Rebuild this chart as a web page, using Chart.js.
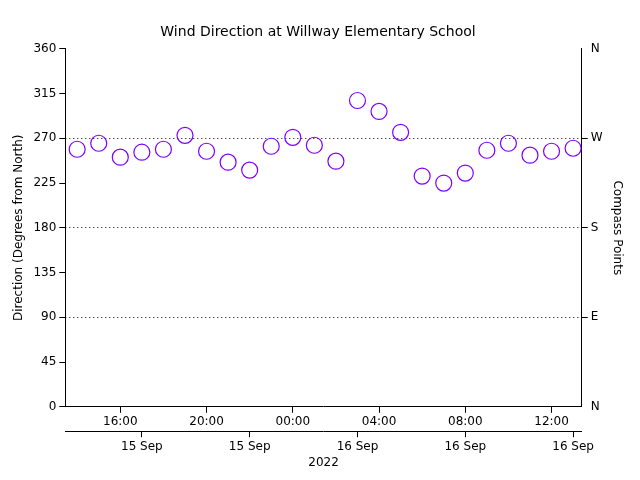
<!DOCTYPE html>
<html><head>
<script src="https://cdn.jsdelivr.net/npm/chart.js@4"></script>
<style>body{margin:0;background:#fff}</style>
</head><body><canvas id="c" width="640" height="480"></canvas>
<script>
// hours since 00:00 on 15 Sep 2022
const hours = [14,15,16,17,18,19,20,21,22,23,24,25,26,27,28,29,30,31,32,33,34,35,36,37]
const direction = [259,265,251,256,259,273,257,246,238,262,271,263,247,308,297,276,232,225,235,258,265,253,257,260]
const compassTicks = {0:'N',90:'E',180:'S',270:'W',360:'N'}
const dateTicks = {17:'15 Sep',22:'15 Sep',27:'16 Sep',32:'16 Sep',37:'16 Sep'}

Chart.defaults.font.family = 'DejaVu Sans'
Chart.defaults.font.size = 12
Chart.defaults.color = '#000'

const pts = hours.map((h, i) => ({x: h, y: direction[i]}))

new Chart(document.getElementById('c'), {
    type: 'scatter',
    data: {datasets: [{data: pts, borderColor: '#8000ff', backgroundColor: 'rgba(0,0,0,0)',
        pointRadius: 8, pointBorderWidth: 1.2, yAxisID: 'y'}]},
    options: {
        responsive: false, animation: false,
        layout: {padding: {top: 0, right: 12, left: 8, bottom: 10}},
        plugins: {legend: {display: false}, tooltip: {enabled: false},
            title: {display: true, text: 'Wind Direction at Willway Elementary School',
                font: {size: 14, weight: 'normal'}, padding: {top: 24, bottom: 8}}},
        scales: {
            x: {type: 'linear', min: 13.45, max: 37.4, position: 'bottom',
                afterBuildTicks: a => { a.ticks = [16,20,24,28,32,36].map(v => ({value: v})) },
                ticks: {callback: v => String(v % 24).padStart(2, '0') + ':00', maxRotation: 0, autoSkip: false, padding: 2},
                grid: {drawOnChartArea: false, tickLength: 6, color: '#000'},
                border: {color: '#000'}},
            x2: {type: 'linear', min: 13.45, max: 37.4, position: 'bottom',
                afterBuildTicks: a => { a.ticks = [17,22,27,32,37].map(v => ({value: v})) },
                ticks: {callback: v => dateTicks[v] || '', maxRotation: 0, autoSkip: false, padding: 2},
                grid: {drawOnChartArea: false, tickLength: 6, color: '#000'},
                border: {color: '#000'},
                title: {display: true, text: '2022', padding: 0}},
            y: {min: 0, max: 360, position: 'left',
                ticks: {stepSize: 45, autoSkip: false},
                grid: {drawOnChartArea: false, tickLength: 6, color: '#000'},
                border: {color: '#000'},
                title: {display: true, text: 'Direction (Degrees from North)'}},
            y2: {min: 0, max: 360, position: 'right',
                afterBuildTicks: a => { a.ticks = [0,90,180,270,360].map(v => ({value: v})) },
                ticks: {callback: v => compassTicks[v], autoSkip: false},
                grid: {color: '#000', tickLength: 6,
                    lineWidth: c => (c.tick && (c.tick.value === 0 || c.tick.value === 360)) ? 0 : 1},
                border: {color: '#000', dash: [1, 3]},
                title: {display: true, text: 'Compass Points'}}
        }
    }
})
</script></body></html>
